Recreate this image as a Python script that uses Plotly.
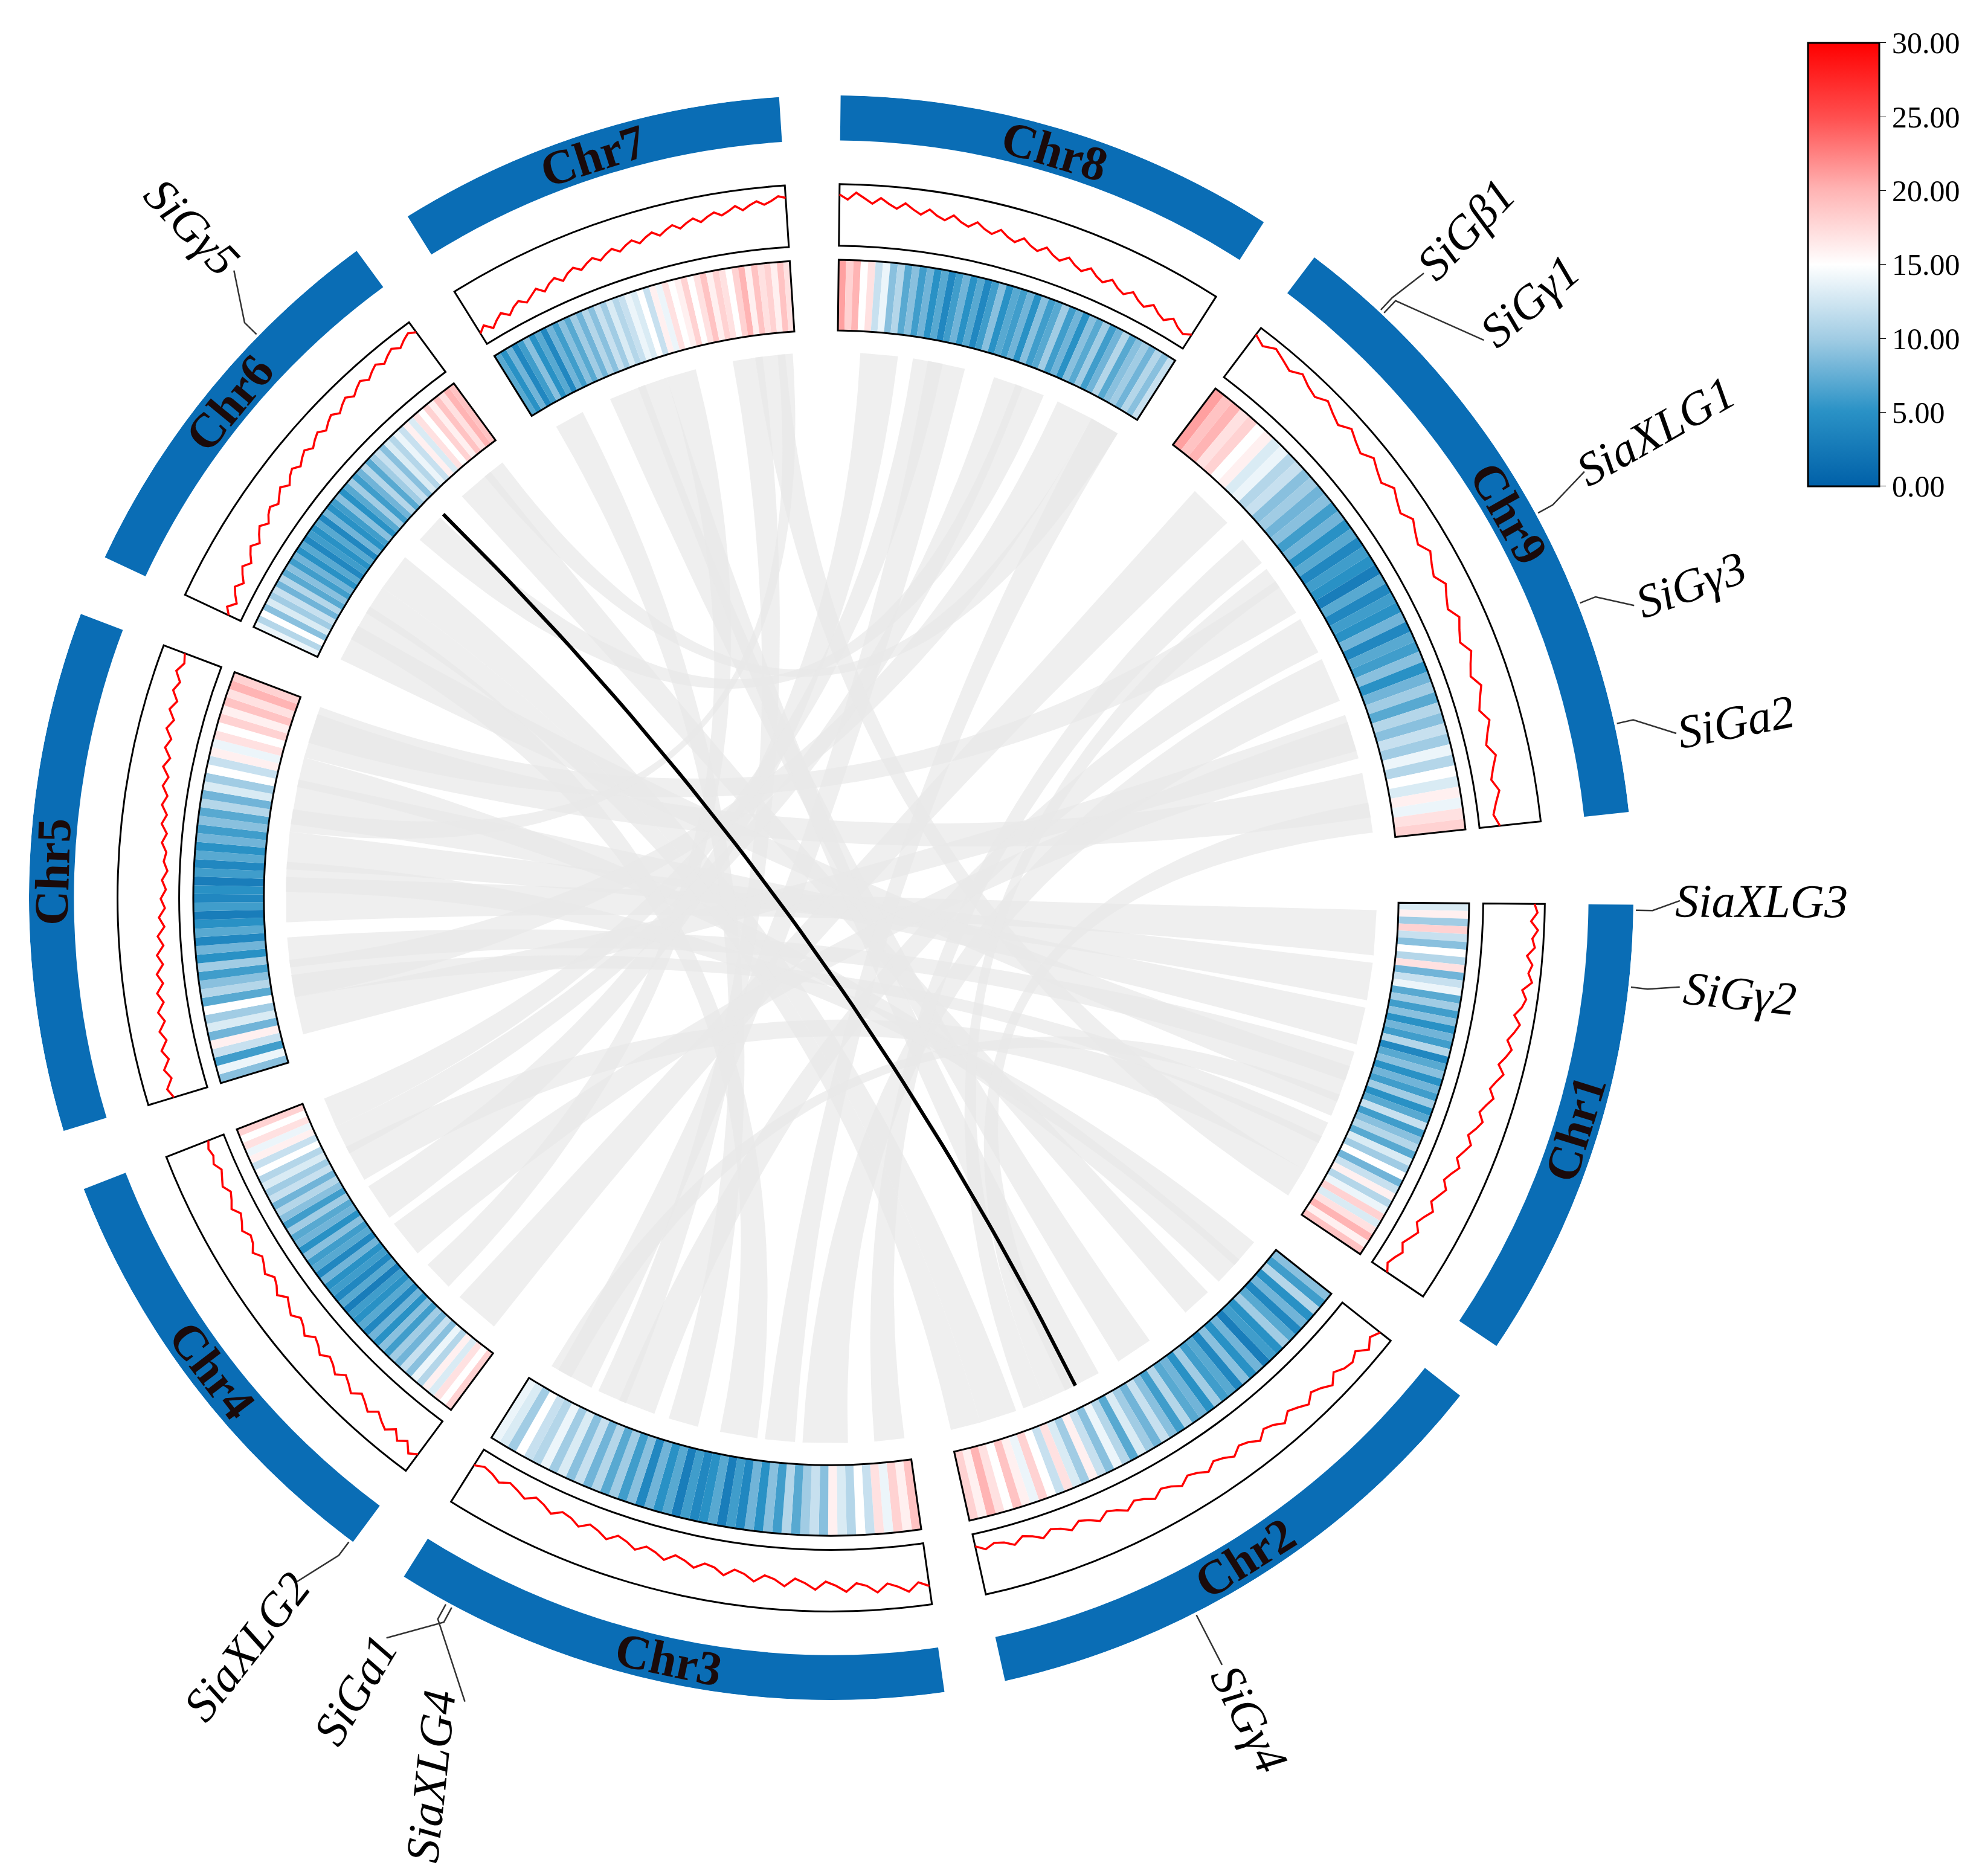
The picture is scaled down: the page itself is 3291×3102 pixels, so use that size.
import plotly.graph_objects as go
import numpy as np

W, H = 3291, 3102
chroms = ["Chr1", "Chr2", "Chr3", "Chr4", "Chr5", "Chr6", "Chr7", "Chr8", "Chr9"]
chrom_len = [42.1, 49.2, 50.7, 40.4, 47.3, 36.0, 35.4, 40.2, 58.9]

heat = [
    [13,16,10,18,12,9,15,11,17,8,12,14,7,10,6,9,5,8,6,11,4,7,9,5,8,6,10,5,7,12,6,9,11,7,13,10,15,8,12,16,11,14,18,13,17,20,16,19],
    [9,6,11,5,8,4,7,10,5,6,3,8,5,9,4,7,6,10,5,8,7,11,6,9,12,8,10,13,7,11,14,9,12,16,10,13,17,12,15,18,14,16,19,15,17,20,16,18],
    [19,16,18,14,17,12,15,11,13,16,9,12,10,7,11,6,9,5,8,4,6,3,7,5,4,6,3,7,5,8,4,9,6,10,7,11,8,12,9,13,10,14,11,12,15,10,13,14],
    [18,15,17,13,16,11,14,9,12,8,10,6,9,5,8,4,7,5,6,3,7,4,6,5,8,4,7,6,9,5,8,7,10,6,9,11,8,12,10,13,11,15,12,16,14,17,15,18],
    [9,14,6,12,16,8,13,10,15,7,11,9,6,10,5,8,4,7,5,3,6,4,5,3,6,4,7,5,8,6,9,7,11,8,13,10,15,12,16,14,17,15,18,16,19,17,20,18],
    [14,11,15,9,13,10,12,8,11,7,9,6,8,5,7,4,6,5,7,4,8,5,6,9,5,7,10,6,8,11,7,10,12,9,13,11,14,12,16,13,17,15,18,16,19,17,20,19],
    [7,5,8,4,6,9,5,7,4,8,6,9,7,10,8,11,9,12,10,13,11,12,14,13,15,12,16,14,17,15,16,18,15,17,19,16,18,17,15,18,20,16,19,17,18,16,19,17],
    [21,18,20,15,17,12,14,9,11,7,9,6,8,5,7,4,6,8,5,7,4,6,9,5,7,6,8,5,9,6,7,10,6,8,5,9,7,10,6,8,11,7,9,10,8,11,9,12],
    [21,19,20,17,18,15,16,13,14,11,12,9,10,8,9,6,8,5,7,4,6,5,3,7,4,6,5,8,4,7,6,9,5,8,10,7,11,9,12,10,14,11,15,13,16,14,17,18],
]

line = [
    [90,96,84,98,88,94,80,92,86,95,78,88,82,70,84,76,66,78,70,60,74,64,56,68,58,50,62,54,44,56,48,40,52,42,34,46,38,30,42,32,24,36,28,20,30,22,16,26],
    [84,74,88,70,80,76,66,82,70,62,76,66,58,72,60,54,68,56,50,62,52,46,58,48,42,54,44,38,50,40,34,46,36,30,42,32,26,38,28,22,34,24,18,30,20,16,24,14],
    [74,64,80,68,60,76,62,56,72,60,52,68,56,48,64,52,46,60,48,42,56,44,40,52,42,36,50,40,34,46,36,30,44,34,28,40,30,26,38,28,22,34,26,20,30,22,18,26],
    [70,80,62,74,58,72,64,54,68,58,50,64,54,46,60,50,44,56,46,40,54,44,38,50,42,34,48,38,32,44,36,30,42,32,28,38,30,24,36,28,22,32,26,20,30,24,28,22],
    [58,66,52,62,48,58,44,54,40,50,36,46,32,42,28,38,24,34,20,30,18,26,16,24,14,22,18,28,20,32,24,36,28,40,32,46,36,50,42,56,46,60,50,64,56,70,60,66],
    [16,26,12,22,30,18,28,36,24,34,42,30,40,48,36,46,52,42,50,58,46,56,62,52,60,66,56,64,70,60,68,74,64,72,78,68,76,82,72,80,86,76,84,90,80,88,94,86],
    [14,24,10,20,28,16,26,32,22,30,38,26,36,42,30,40,46,36,44,50,40,48,54,44,52,58,48,56,62,52,60,66,56,64,70,60,68,74,66,72,80,70,78,84,76,82,90,86],
    [90,80,94,84,74,86,76,68,80,70,62,74,64,58,70,60,54,66,56,50,62,52,46,58,48,42,54,44,38,50,40,34,46,36,30,42,32,26,38,28,22,34,24,18,30,20,14,22],
    [94,84,96,88,80,92,82,76,88,78,70,84,74,66,80,70,62,76,66,58,72,62,54,68,58,50,64,54,46,60,50,42,56,46,38,52,42,34,48,38,30,44,34,26,38,28,20,30],
]

# links: (chrA, posA, widthA, chrB, posB, widthB) in Mb
links = [
    (4, 18, 6, 0, 1, 6), (4, 25, 5, 0, 8, 5), (4, 31, 6, 0, 14, 5), (4, 12, 4, 0, 20, 4),
    (4, 40, 6, 8, 50, 6), (4, 3, 5, 8, 42, 5), (4, 36, 4, 1, 4, 4), (4, 8, 3, 0, 30, 3),
    (5, 4, 5, 2, 20, 5), (5, 12, 5, 1, 40, 5), (5, 28, 5, 1, 10, 4), (5, 20, 4, 7, 24, 4),
    (6, 2, 4, 2, 28, 4), (6, 10, 5, 1, 20, 5), (6, 18, 4, 3, 10, 4), (6, 27, 4, 2, 38, 4),
    (7, 3, 5, 3, 22, 5), (7, 12, 5, 2, 43, 5), (7, 30, 5, 4, 8, 5), (7, 21, 4, 3, 32, 4),
    (8, 6, 6, 3, 2, 6), (8, 22, 5, 4, 42, 5), (8, 34, 6, 2, 8, 6), (8, 15, 4, 2, 0.5, 4),
    (0, 22, 5, 5, 1, 5), (0, 32, 5, 3, 28, 5), (0, 37, 4, 6, 30, 4),
    (1, 28, 5, 6, 14, 4), (1, 1, 4, 4, 22, 4), (2, 34, 5, 8, 28, 5), (1, 45, 4, 5, 8, 4),
    (3, 16, 5, 8, 43, 5), (2, 15, 4, 7, 35, 4), (7, 35, 4, 5, 32, 3), (8, 54, 4, 1, 32, 4),
    (6, 33, 2, 4, 30, 3), (0, 26, 3, 2, 46, 3), (3, 36, 4, 7, 10, 4), (1, 36, 3, 8, 20, 3),
]
black_link = (5, 24.6, 1, 31.5)

genes = [
    # name, chr, pos(Mb), label theta(deg cw), label radius, text angle
    ("SiaXLG3", 0, 0.5, 0.2, 725, None),
    ("SiGγ2", 0, 7.4, 6.0, 712, None),
    ("SiGγ4", 1, 31.0, 63.0, 718, None),
    ("SiGa1", 2, 45.6, 121.0, 720, None),
    ("SiaXLG4", 2, 46.2, 114.5, 752, -84),
    ("SiaXLG2", 3, 0.3, 128.0, 740, None),
    ("SiGγ5", 5, 24.3, 226.4, 722, None),
    ("SiGβ1", 8, 7.6, 313.5, 718, None),
    ("SiGγ1", 8, 8.0, 319.5, 716, None),
    ("SiaXLG1", 8, 30.7, 330.5, 738, None),
    ("SiGγ3", 8, 39.6, 340.0, 713, None),
    ("SiGa2", 8, 50.9, 349.0, 718, None),
]

# ---------------- geometry ----------------
GAP, START, DEG = 4.4, 0.5, 0.795
starts = []
t = START
for L in chrom_len:
    starts.append(t)
    t += L * DEG + GAP

def th(ci, pos):
    return starts[ci] + pos * DEG

R_OUT = 625.0
CX, CY = 1368.0, 1478.0
S = 1328.0 / R_OUT  # px per unit

def xy(theta, r):
    a = np.radians(theta)
    return r * np.cos(a), -r * np.sin(a)

BLUE = "#0a6db5"
cscale = [[0, "#0060a8"], [0.17, "#2a92c6"], [0.33, "#9fcbe3"], [0.5, "#ffffff"],
          [0.67, "#ffb3b3"], [0.83, "#ff5050"], [1, "#ff0000"]]

fig = go.Figure()

fig.add_trace(go.Barpolar(
    theta=[starts[i] + chrom_len[i] * DEG / 2 for i in range(9)],
    width=[L * DEG for L in chrom_len], base=[590] * 9, r=[35] * 9,
    marker=dict(color=BLUE, line=dict(width=0)), hoverinfo="skip", showlegend=False))

for i, vals in enumerate(heat):
    n = len(vals)
    step = chrom_len[i] / n
    fig.add_trace(go.Barpolar(
        theta=[th(i, (k + 0.5) * step) for k in range(n)],
        width=[step * DEG] * n, base=[442] * n, r=[55] * n,
        marker=dict(color=vals, colorscale=cscale, cmin=0, cmax=30, line=dict(width=0),
                    showscale=(i == 0),
                    colorbar=dict(x=0.904, xanchor="left", y=0.983, yanchor="top",
                                  len=0.243, lenmode="fraction", thickness=118,
                                  outlinecolor="black", outlinewidth=3,
                                  tickvals=[0, 5, 10, 15, 20, 25, 30], tickformat=".2f",
                                  ticks="outside", ticklen=10, tickcolor="black",
                                  tickfont=dict(family="Liberation Serif", size=50, color="black"))),
        hoverinfo="skip", showlegend=False))

for i, vals in enumerate(line):
    n = len(vals)
    step = chrom_len[i] / (n - 1)
    fig.add_trace(go.Scatterpolar(
        theta=[th(i, k * step) for k in range(n)],
        r=[512 + v / 100 * 40 for v in vals], mode="lines",
        line=dict(color="#ff0000", width=3.5), hoverinfo="skip", showlegend=False))

for base, rr in [(442, 55), (508, 48)]:
    fig.add_trace(go.Barpolar(
        theta=[starts[i] + chrom_len[i] * DEG / 2 for i in range(9)],
        width=[L * DEG for L in chrom_len], base=[base] * 9, r=[rr] * 9,
        marker=dict(color="rgba(0,0,0,0)", line=dict(color="black", width=3)),
        hoverinfo="skip", showlegend=False))

RL = 425
tt = np.linspace(0, 1, 60)

def bez(p0, p2):
    return ((1 - tt) ** 2 * p0[0] + tt ** 2 * p2[0], (1 - tt) ** 2 * p0[1] + tt ** 2 * p2[1])

for (a, pa, wa, b, pb, wb) in links:
    a1, a2 = xy(th(a, pa), RL), xy(th(a, pa + wa), RL)
    b1, b2 = xy(th(b, pb), RL), xy(th(b, pb + wb), RL)
    c1 = bez(a1, b2)
    c2 = bez(b1, a2)
    fig.add_trace(go.Scatter(x=list(c1[0]) + list(c2[0]), y=list(c1[1]) + list(c2[1]),
                             fill="toself", fillcolor="rgba(232,232,232,0.7)",
                             mode="lines", line=dict(width=0), hoverinfo="skip", showlegend=False))

ca, pa, cb, pb = black_link
p0, p2 = xy(th(ca, pa), RL), xy(th(cb, pb), RL)
bx, by = bez(p0, p2)
fig.add_trace(go.Scatter(x=bx, y=by, mode="lines", line=dict(color="black", width=6),
                         hoverinfo="skip", showlegend=False))

annotations = []
for name, ci, pos, lt, lr, ang in genes:
    tg = th(ci, pos)
    tlen = len(name) * 16.5
    x0, y0 = xy(tg, 627)
    x1, y1 = xy(tg, 640)
    x2, y2 = xy(lt, lr - tlen / 2 - 6)
    fig.add_trace(go.Scatter(x=[x0, x1, x2], y=[y0, y1, y2], mode="lines",
                             line=dict(color="#333333", width=2.5), hoverinfo="skip", showlegend=False))
    lx, ly = xy(lt, lr)
    if ang is None:
        a = lt % 360
        ang = a - 360 if a > 270 else (a if a < 90 else a - 180)
    annotations.append(dict(x=lx, y=ly, xref="x", yref="y", text="<i>%s</i>" % name,
                            showarrow=False, textangle=ang,
                            font=dict(family="Liberation Serif", size=78, color="black")))

for i, c in enumerate(chroms):
    tc = starts[i] + chrom_len[i] * DEG / 2
    x, y = xy(tc, 607)
    ang = tc - 90 if tc <= 180 else tc - 270
    annotations.append(dict(x=x, y=y, xref="x", yref="y", text="<b>%s</b>" % c, showarrow=False,
                            textangle=ang, font=dict(family="Liberation Serif", size=80, color="#1a0a0a")))

half = R_OUT * S
fig.update_layout(
    width=W, height=H, margin=dict(l=0, r=0, t=0, b=0),
    paper_bgcolor="white", plot_bgcolor="rgba(0,0,0,0)",
    polar=dict(domain=dict(x=[(CX - half) / W, (CX + half) / W],
                           y=[(H - CY - half) / H, (H - CY + half) / H]),
               bgcolor="rgba(0,0,0,0)", barmode="overlay", hole=0,
               radialaxis=dict(visible=False, range=[0, R_OUT]),
               angularaxis=dict(visible=False, direction="clockwise", rotation=0)),
    xaxis=dict(visible=False, range=[-CX / S, (W - CX) / S], domain=[0, 1], fixedrange=True),
    yaxis=dict(visible=False, range=[-(H - CY) / S, CY / S], domain=[0, 1], fixedrange=True),
    annotations=annotations,
)
fig.write_html("out.html")
